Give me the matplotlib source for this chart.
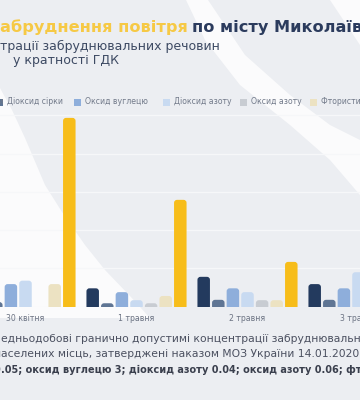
import numpy as np
import matplotlib
matplotlib.use("Agg")
import matplotlib.pyplot as plt
from matplotlib.patches import Polygon, Rectangle, FancyBboxPatch

# ---------------- data ----------------
dates = ["30 квітня", "1 травня", "2 травня", "3 травня"]
series = ["Завислі речовини", "Діоксид сірки", "Оксид вуглецю", "Діоксид азоту",
          "Оксид азоту", "Фтористий водень", "Формальдегід"]
dust = [0.55, 0.48, 0.78, 0.59]
so2 = [0.12, 0.09, 0.18, 0.18]
co = [0.59, 0.38, 0.48, 0.48]
no2 = [0.68, 0.17, 0.38, 0.90]
no = [0.00, 0.09, 0.17, 0.15]
hf = [0.59, 0.28, 0.17, 0.20]
hcho = [4.93, 2.79, 1.17, 1.50]
values = [dust, so2, co, no2, no, hf, hcho]
colors = ["#233a5e", "#5f7594", "#8eaedb", "#c8daf1", "#c8ccd2", "#ece2c2", "#f7bd1a"]

W, H = 360, 400
BG = "#eceef2"
fig = plt.figure(figsize=(W / 100, H / 100), dpi=100, facecolor=BG)
plt.rcParams["font.family"] = ["DejaVu Sans"]

# background decoration axes in pixel coordinates
bg = fig.add_axes([0, 0, 1, 1], zorder=0)
bg.set_xlim(0, W)
bg.set_ylim(H, 0)
bg.axis("off")
bg.set_facecolor(BG)
white = "#fbfbfc"
bg.add_patch(Polygon([(0, 88), (12, 110), (25, 138), (45, 185), (62, 212), (85, 245),
                      (105, 270), (130, 296), (150, 318), (0, 318)],
                     closed=True, fc=white, ec="none"))
bg.add_patch(Polygon([(186, 0), (208, 0), (245, 55), (290, 95), (330, 125), (360, 140),
                      (360, 195), (330, 160), (290, 125), (240, 85), (205, 40)],
                     closed=True, fc=white, ec="none"))
bg.add_patch(Polygon([(330, 0), (360, 0), (360, 45)], closed=True, fc=white, ec="none"))

renderer = fig.canvas.get_renderer()


def fit_size(txt, x0, x1, **kw):
    t = bg.text(0, 0, txt, fontsize=10, **kw)
    w = t.get_window_extent(renderer).width
    t.remove()
    return 10 * (x1 - x0) / w


# ---- title ----
ty = 32
fs_t = fit_size("по місту Миколаї", 192, 351, fontweight="bold")
bg.text(0, ty, "З", ha="right", va="baseline", fontsize=fs_t, fontweight="bold", color="#f6c945")
bg.text(0, ty, "абруднення повітря", ha="left", va="baseline", fontsize=fs_t,
        fontweight="bold", color="#f6c945")
bg.text(192, ty, "по місту Миколаїв", ha="left", va="baseline", fontsize=fs_t,
        fontweight="bold", color="#2b3b5d")

# ---- subtitle ----
fs_s = fit_size("трації забруднювальних речовин", 0, 220)
bg.text(0, 50, "Концен", ha="right", va="baseline", fontsize=fs_s, color="#3d4a63")
bg.text(0, 50, "трації забруднювальних речовин", ha="left", va="baseline",
        fontsize=fs_s, color="#3d4a63")
bg.text(13, 64, "у кратності ГДК", ha="left", va="baseline", fontsize=fs_s, color="#3d4a63")

# ---- legend ----
leg_x = [-80, -4, 74, 163, 240, 310, 410]
fs_l = 5.6
for name, c, lx in zip(series, colors, leg_x):
    bg.add_patch(Rectangle((lx, 98.5), 7, 7, fc=c, ec="none"))
    bg.text(lx + 11, 102, name, ha="left", va="center", fontsize=fs_l, color="#727a8a")

# ---- footnote ----
fs_f = fit_size("едньодобові гранично допустимі концентрації", 1, 267)
fc_ = "#4b5060"
bg.text(1, 342, "Сер", ha="right", va="baseline", fontsize=fs_f, color=fc_)
bg.text(1, 342, "едньодобові гранично допустимі концентрації забруднювальних речовин в атмосферному повітрі",
        ha="left", va="baseline", fontsize=fs_f, color=fc_)
bg.text(1, 357, "н", ha="right", va="baseline", fontsize=fs_f, color=fc_)
bg.text(1, 357, "аселених місць, затверджені наказом МОЗ України 14.01.2020 №52",
        ha="left", va="baseline", fontsize=fs_f, color=fc_)
fs_b = fit_size(".05; оксид вуглецю 3; діоксид азоту 0.04; оксид азоту 0.06;", 1, 342,
                fontweight="bold")
bg.text(1, 373, "діоксид сірки 0", ha="right", va="baseline", fontsize=fs_b,
        fontweight="bold", color="#3a3f4d")
bg.text(1, 373, ".05; оксид вуглецю 3; діоксид азоту 0.04; оксид азоту 0.06; фтористий водень 0.005",
        ha="left", va="baseline", fontsize=fs_b, fontweight="bold", color="#3a3f4d")

# ---------------- chart ----------------
base_px = 306.7
unit_px = 38.3
ymax = 5.3
ax = fig.add_axes([0, (H - base_px) / H, 1, ymax * unit_px / H], zorder=1)
ax.patch.set_alpha(0)
gpitch = 111.0
ax.set_xlim(-25.5 / gpitch, (W - 25.5) / gpitch)
ax.set_ylim(0, ymax)
for s in ax.spines.values():
    s.set_visible(False)
ax.set_yticks([0, 1, 2, 3, 4, 5])
ax.yaxis.grid(True, color="#f6f7f9", lw=1.0)
ax.tick_params(axis="y", length=0, labelleft=False)
ax.set_axisbelow(True)

x = np.arange(len(dates))
bw = 12.5 / gpitch
step = 14.6 / gpitch
rx = 3.0 / gpitch                      # corner radius in x data units
aspect = gpitch / unit_px              # y-units per x-unit for equal pixel radius
ry = rx * aspect
for i, (vals, c) in enumerate(zip(values, colors)):
    bars = ax.bar(x + (i - 3) * step, vals, width=bw, color=c, zorder=2)
    for rect in bars:
        h = rect.get_height()
        rect.set_visible(False)
        if h <= 0:
            continue
        ax.add_patch(FancyBboxPatch((rect.get_x(), -ry), rect.get_width(), h + ry,
                                    boxstyle=f"round,pad=0,rounding_size={rx}",
                                    mutation_aspect=aspect, fc=c, ec="none", zorder=2))

ax.set_xticks(x)
ax.set_xticklabels(dates, fontsize=5.6, color="#6c7383")
ax.tick_params(axis="x", length=0, pad=5)

fig.savefig("out.png", dpi=100, facecolor=BG)
